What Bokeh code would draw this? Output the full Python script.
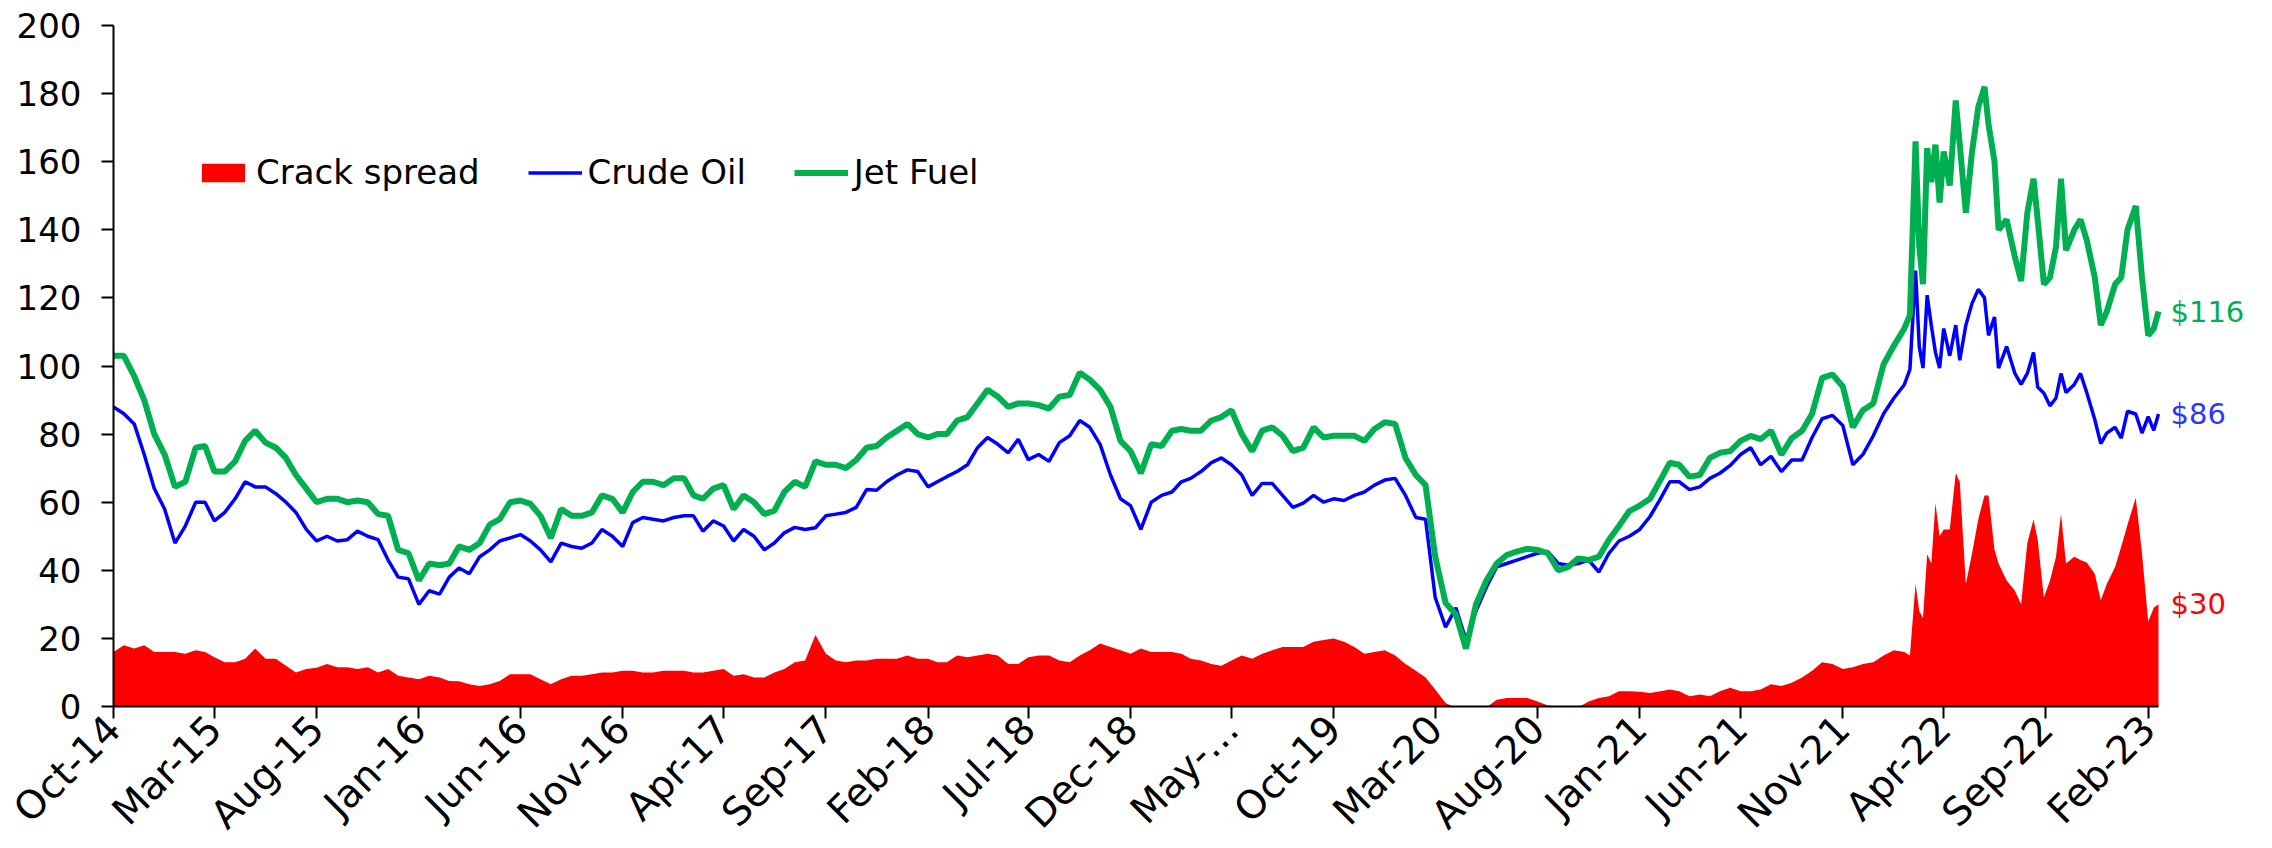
from datetime import datetime
from bokeh.plotting import figure
from bokeh.models import Range1d, FixedTicker, CustomJSTickFormatter, Label, ColumnDataSource
from bokeh.embed import file_html
from bokeh.resources import INLINE

# ---------------- data ----------------
# x positions: months since 1 Oct 2014 (semi-monthly up to Jan 2022, denser in 2022-23)
months_early = [k / 2 for k in range(176)]          # Oct-14 .. mid Jan-22
months_late = [88.0, 88.3, 88.6, 88.8, 89.0, 89.2, 89.4, 89.6, 89.8, 90.0, 90.3, 90.6, 90.8,
               91.1, 91.4, 91.7, 92.0, 92.2, 92.5, 92.7, 93.1, 93.5, 93.8, 94.1, 94.4, 94.6,
               94.9, 95.2, 95.5, 95.75, 96.0, 96.4, 96.7, 97.0, 97.4, 97.7, 98.0, 98.4, 98.7,
               99.0, 99.4, 99.7, 100.0, 100.3, 100.55]

jet_fuel = [
    # 2014 (Oct-Dec)
    103, 103, 97, 90, 80, 74,
    # 2015
    64.5, 66, 76, 76.5, 69, 69, 72, 78, 81, 77.5, 76, 73, 68, 64, 60, 61, 61, 60, 60.5, 60, 56.5, 56, 46, 45,
    # 2016
    37, 42, 41.5, 42, 47, 46, 48, 53.4, 55, 60, 60.5, 59.5, 56, 49.5, 58, 56, 56, 57, 62, 61, 57, 63, 66, 66,
    # 2017
    65, 67, 67, 62, 61, 64, 65, 58, 62, 60, 56.5, 57.5, 63, 66, 64.5, 72, 71, 71, 70, 72.4, 76, 76.5, 79, 81,
    # 2018
    83, 80, 79, 80, 80, 84, 85, 89, 93, 91, 88, 89, 89, 88.5, 87.5, 91, 91.5, 98, 96, 93, 88, 78, 75, 68.5,
    # 2019
    77, 76.5, 81, 81.5, 81, 81, 84, 85, 87, 80, 75, 81, 82, 79.5, 75, 76, 82, 79, 79.5, 79.5, 79.5, 78, 81.5, 83.5,
    # 2020
    83, 73, 68, 65, 44, 30.4, 27, 17, 30, 37, 42, 44.5, 45.5, 46.3, 46, 45, 40, 41, 43.5, 43, 44, 49, 53, 57.4,
    # 2021
    59, 61, 66.5, 71.6, 71, 67.5, 68, 73, 74.5, 75, 78, 79.5, 78.5, 81, 74, 78.8, 81, 86, 96.5, 97.5, 94, 82, 87, 89,
    # Jan 2022
    100.5, 106,
    # Feb 2022 - Feb 2023
    111, 115, 166, 135, 124, 164, 154, 165, 148, 163, 153, 178, 165, 145, 163, 176, 182, 171, 160, 140,
    143, 132, 125, 145, 155, 143, 124, 126, 135, 155, 134, 140, 143, 137, 126, 112, 116, 124, 126,
    140, 147, 126, 109, 111, 116,
]

crude_oil = [
    88, 86, 83, 74, 64, 58,
    48, 53, 60, 60, 54.5, 57, 61, 66, 64.5, 64.5, 62.5, 60, 57, 52, 48.6, 50, 48.6, 49, 51.5, 50, 49, 43, 38, 37.5,
    30, 34, 33, 38, 40.7, 39, 44, 46, 48.6, 49.5, 50.5, 48.6, 46, 42.5, 48, 47, 46.5, 48, 52, 50, 47, 54, 55.5, 55,
    54.5, 55.5, 56, 56, 51.5, 54.5, 53, 48.6, 52, 50, 46, 48, 51, 52.6, 52, 52.5, 56, 56.5, 57, 58.5, 63.7, 63.5, 66, 68,
    69.5, 69, 64.5, 66, 67.5, 69, 71, 76, 79, 77, 74.5, 78.5, 72.5, 74, 72, 77.5, 79.5, 84, 82, 77, 68, 61, 59, 52,
    60, 62, 63, 66, 67, 69, 71.6, 73, 71, 68, 62, 65.5, 65.5, 62, 58.5, 59.7, 62, 60, 61, 60.5, 62, 63, 65, 66.5,
    67, 62, 55.5, 55, 32, 23.3, 29, 19.5, 28, 35, 41, 42, 43, 44, 45, 45.5, 42, 41.5, 42, 43, 39.5, 45, 48.6, 50,
    52, 55.8, 61, 66, 66, 63.7, 64.5, 67, 68.5, 70.8, 74, 76, 71, 73.5, 69, 72.4, 72.4, 79, 84.5, 85.5, 82.5, 71, 74, 79.5,
    86, 90.6,
    94.5, 99, 128, 105.7, 99.4, 120.8, 112, 104, 99.4, 111, 103, 112, 101.7, 112, 118.4, 122.5, 120, 109, 114.4, 99.4,
    105.7, 97.8, 94.6, 97.8, 104, 93.8, 92, 88.3, 90.6, 97.8, 92.2, 94.6, 97.8, 92.2, 84.3, 77.2, 80.3, 82, 78.8,
    86.7, 85.9, 80.3, 85.1, 81.1, 85.9,
]

crack_spread = [
    16, 18, 17, 18, 16, 16,
    16, 15.5, 16.5, 16, 14.5, 13, 13, 14, 17, 14, 14, 12, 10, 11, 11.4, 12.5, 11.5, 11.5, 11, 11.5, 10, 11, 9, 8.5,
    8, 9, 8.5, 7.5, 7.4, 6.5, 6, 6.5, 7.5, 9.5, 9.5, 9.5, 8, 6.5, 8, 9, 9, 9.5, 10, 10, 10.5, 10.5, 10, 10,
    10.5, 10.5, 10.5, 10, 10, 10.5, 11, 9, 9.5, 8.5, 8.5, 10, 11, 13, 13.5, 21, 15.5, 13.5, 13, 13.5, 13.5, 14, 14, 14,
    15, 14, 14, 13, 13, 15, 14.5, 15, 15.5, 15, 12.5, 12.5, 14.5, 15, 15, 13.5, 13, 15, 16.5, 18.5, 17.5, 16.5, 15.5, 17,
    16, 16, 16, 15.5, 14, 13.5, 12.5, 12, 13.5, 15, 14, 15.5, 16.5, 17.5, 17.5, 17.5, 19, 19.5, 20, 19, 17.5, 15.5, 16, 16.5,
    15, 12.5, 10.5, 8.5, 5, 1, -0.5, -0.5, -0.5, -0.3, 2, 2.5, 2.5, 2.5, 1.5, 0.3, 0, 0, -0.3, 1.5, 2.5, 3, 4.5, 4.5,
    4.3, 4, 4.5, 5, 4.5, 3, 3.5, 3, 4.5, 5.5, 4.5, 4.5, 5, 6.5, 6, 7, 8.5, 10.5, 13, 12.5, 11, 11.5, 12.5, 13,
    15, 16.5,
    16, 15, 36, 28, 26, 44.7, 42, 59.7, 50, 52, 52, 68.5, 66, 36, 45, 55, 62, 62, 46, 42,
    37, 34, 30, 48, 55, 49, 32, 37, 44, 56.6, 42, 44, 43, 42.3, 39, 31.2, 36, 41, 47,
    53.4, 61.3, 45, 25, 29, 30,
]

tick_months = [0, 5, 10, 15, 20, 25, 30, 35, 40, 45, 50, 55, 60, 65, 70, 75, 80, 85, 90, 95, 100]
tick_labels = ["Oct-14", "Mar-15", "Aug-15", "Jan-16", "Jun-16", "Nov-16", "Apr-17", "Sep-17",
               "Feb-18", "Jul-18", "Dec-18", "May-\u2026", "Oct-19", "Mar-20", "Aug-20", "Jan-21",
               "Jun-21", "Nov-21", "Apr-22", "Sep-22", "Feb-23"]
y_ticks = [0, 20, 40, 60, 80, 100, 120, 140, 160, 180, 200]


# ---------------- helpers ----------------
def month_to_dt(m):
    k = int(m // 1)
    frac = m - k
    y = 2014 + (9 + k) // 12
    mo = (9 + k) % 12 + 1
    start = datetime(y, mo, 1)
    ny, nm = (y + 1, 1) if mo == 12 else (y, mo + 1)
    return start + (datetime(ny, nm, 1) - start) * frac


EPOCH = datetime(1970, 1, 1)
months = months_early + months_late
dates = [month_to_dt(m) for m in months]
tick_ms = [(month_to_dt(m) - EPOCH).total_seconds() * 1000.0 for m in tick_months]

src = ColumnDataSource(dict(date=dates, jet=jet_fuel, crude=crude_oil, crack=crack_spread))

FONT = "DejaVu Sans"
GREEN = "#00B050"
BLUE = "#0000FF"
RED = "#FF0000"

# layout: frame 113px from left, data ends at 2158px; frame continues to the right for end labels
FRAME_W = 2149
DATA_W = 2045
x_end = dates[0] + (dates[-1] - dates[0]) * (FRAME_W / DATA_W)

p = figure(frame_width=FRAME_W, frame_height=681, x_axis_type="datetime",
           x_range=Range1d(dates[0], x_end), y_range=Range1d(0, 200),
           output_backend="svg", toolbar_location=None,
           min_border_left=113, min_border_right=6, min_border_top=25, min_border_bottom=141)

p.varea(x="date", y1=0, y2="crack", source=src, fill_color=RED, legend_label="Crack spread")
p.line(x="date", y="crude", source=src, line_color=BLUE, line_width=3.5, legend_label="Crude Oil")
p.line(x="date", y="jet", source=src, line_color=GREEN, line_width=6, legend_label="Jet Fuel")

p.outline_line_color = None
p.xgrid.visible = False
p.ygrid.visible = False
p.background_fill_color = "white"
p.border_fill_color = "white"

# axes
p.yaxis.ticker = FixedTicker(ticks=y_ticks)
p.xaxis.ticker = FixedTicker(ticks=tick_ms)
p.xaxis.bounds = (dates[0], dates[-1])
p.xaxis.formatter = CustomJSTickFormatter(args=dict(tvals=tick_ms, tnames=tick_labels), code="""
    let best = 0, bd = Infinity;
    for (let i = 0; i < tvals.length; i++) {
        const d = Math.abs(tvals[i] - tick);
        if (d < bd) { bd = d; best = i; }
    }
    return tnames[best];
""")
p.xaxis.major_label_orientation = 0.785398
for ax in (p.xaxis[0], p.yaxis[0]):
    ax.axis_line_color = "black"
    ax.axis_line_width = 2
    ax.major_tick_line_color = "black"
    ax.major_tick_line_width = 2
    ax.major_tick_out = 12
    ax.major_tick_in = 0
    ax.minor_tick_line_color = None
    ax.major_label_text_font = FONT
    ax.major_label_text_color = "black"
p.yaxis.major_label_text_font_size = "34px"
p.xaxis.major_label_text_font_size = "39px"
p.yaxis.major_label_standoff = 20
p.xaxis.major_label_standoff = 4

# legend
lg = p.legend[0]
lg.orientation = "horizontal"
lg.location = (83, 514)
lg.glyph_width = 54
lg.glyph_height = 23
lg.label_standoff = 6
lg.spacing = 48
lg.padding = 0
lg.margin = 0
lg.border_line_alpha = 0
lg.background_fill_alpha = 0
lg.label_text_font = FONT
lg.label_text_font_size = "34px"
lg.label_text_color = "black"

# end-of-series value labels
end_x = dates[-1]
for val, col in ((jet_fuel[-1], GREEN), (crude_oil[-1], "#2B35FF"), (crack_spread[-1], RED)):
    p.add_layout(Label(x=end_x, y=val, text=f"${round(val)}", x_offset=12,
                       text_baseline="middle", text_align="left", text_color=col,
                       text_font=FONT, text_font_size="29px"))

open("out.html", "w").write(file_html(p, INLINE))
